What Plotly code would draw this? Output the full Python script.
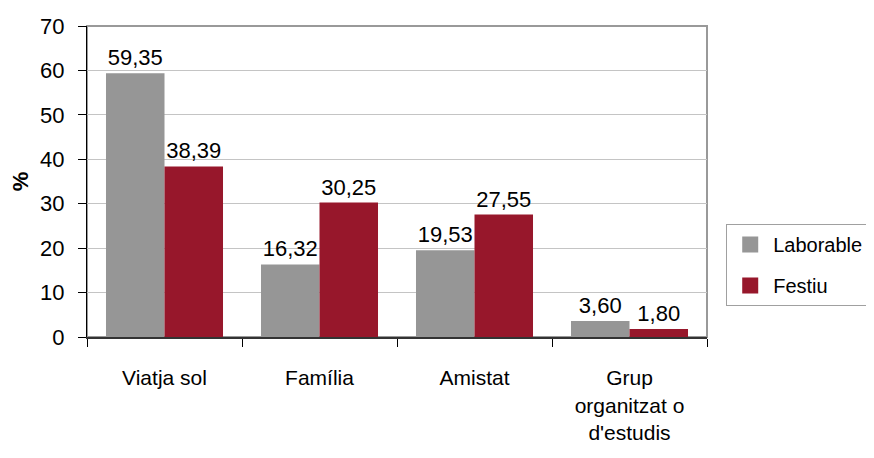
import plotly.graph_objects as go

categories = ["Viatja sol", "Família", "Amistat", "Grup<br>organitzat o<br>d'estudis"]
laborable = [59.35, 16.32, 19.53, 3.60]
festiu = [38.39, 30.25, 27.55, 1.80]
series_names = ["Laborable", "Festiu"]
y_ticks = [0, 10, 20, 30, 40, 50, 60, 70]

FONT = "Liberation Sans, Arial, sans-serif"
GRAY = "#969696"
RED = "#97172B"

fig = go.Figure()
for name, vals, col, grp in [(series_names[0], laborable, GRAY, "a"), (series_names[1], festiu, RED, "b")]:
    fig.add_trace(go.Bar(
        x=categories, y=vals, name=name, marker=dict(color=col, line=dict(width=0)),
        texttemplate="%{y:.2f}", textposition="outside", cliponaxis=False,
        textfont=dict(family=FONT, size=22, color="black"), legendgroup=grp,
        showlegend=False,
    ))
    # legend entry with a larger square swatch
    fig.add_trace(go.Scatter(
        x=[None], y=[None], mode="markers", name=name, legendgroup=grp,
        marker=dict(symbol="square", size=16, color=col, line=dict(width=0)),
        hoverinfo="skip",
    ))

fig.update_layout(
    width=874, height=458,
    margin=dict(l=79, r=175, t=18, b=129, autoexpand=False),
    paper_bgcolor="white", plot_bgcolor="white",
    separators=",.",
    barmode="group", bargap=0.245, bargroupgap=0,
    font=dict(family=FONT, size=22, color="black"),
    legend=dict(x=1.031, y=0.363, xanchor="left", yanchor="top",
                bordercolor="#a0a0a0", borderwidth=1, font=dict(size=20),
                traceorder="grouped", tracegroupgap=12, itemwidth=36,
                itemsizing="trace"),
    shapes=[dict(type="rect", xref="paper", yref="paper", x0=0, x1=1, y0=0, y1=1,
                 line=dict(color="#999999", width=2), layer="below")],
)
fig.update_yaxes(range=[0, 70], tickvals=y_ticks, showgrid=True, gridcolor="#c4c4c4",
                 gridwidth=1, showline=True, linecolor="black", linewidth=1,
                 ticks="outside", ticklen=8, tickcolor="black", ticklabelstandoff=9,
                 tickfont=dict(size=22), zeroline=False, automargin=False,
                 title=dict(text="<b>%</b>", font=dict(size=22), standoff=16))
fig.update_xaxes(showline=True, linecolor="#333333", linewidth=2, ticks="outside",
                 tickson="boundaries", ticklen=8, tickcolor="black", automargin=False,
                 tickfont=dict(size=21), ticklabelstandoff=21)

fig.write_html("out.html")
